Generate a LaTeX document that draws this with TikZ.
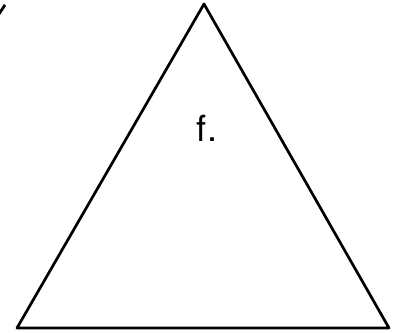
\documentclass[tikz,border=0pt]{standalone}
\usepackage{fontspec}
\setmainfont{TeX Gyre Heros}
\begin{document}
\begin{tikzpicture}[x=1pt,y=1pt,line join=round]
\useasboundingbox (0,0) rectangle (393,332);
\draw[line width=2.7pt] (17,4)--(204,328)--(389,4)--cycle;
\fill (0,317)--(0,322)--(4,328)--(6,326)--cycle;
\node (lbl) at (207,204) {\fontsize{36}{40}\selectfont f.};
\end{tikzpicture}
\end{document}
